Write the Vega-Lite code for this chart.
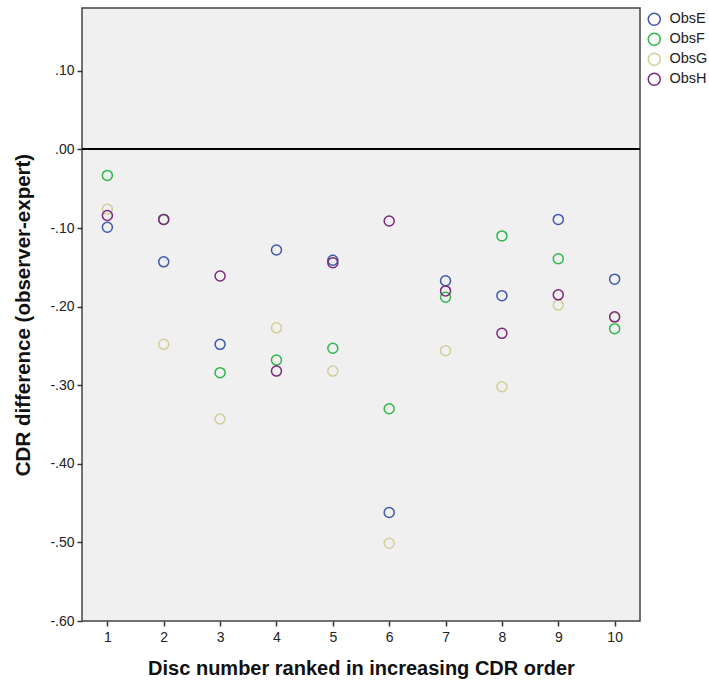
{
  "$schema": "https://vega.github.io/schema/vega-lite/v6.json",
  "width": 558,
  "height": 613,
  "autosize": {"type": "none"},
  "padding": {"left": 82, "top": 8, "right": 69, "bottom": 65},
  "background": "#ffffff",
  "config": {
    "font": "Liberation Sans",
    "view": {"fill": "#f0f0f0", "stroke": "#444444", "strokeWidth": 1.5},
    "axis": {"grid": false, "domain": false, "tickColor": "#333333", "tickSize": 5, "tickWidth": 1.5, "labelColor": "#222222", "labelFontSize": 14, "titleColor": "#111111", "titleFontWeight": "bold"}
  },
  "data": {"values": [
    {"disc": 1, "obs": "ObsE", "diff": -0.099},
    {"disc": 1, "obs": "ObsF", "diff": -0.033},
    {"disc": 1, "obs": "ObsG", "diff": -0.076},
    {"disc": 1, "obs": "ObsH", "diff": -0.084},
    {"disc": 2, "obs": "ObsE", "diff": -0.143},
    {"disc": 2, "obs": "ObsF", "diff": -0.089},
    {"disc": 2, "obs": "ObsG", "diff": -0.248},
    {"disc": 2, "obs": "ObsH", "diff": -0.089},
    {"disc": 3, "obs": "ObsE", "diff": -0.248},
    {"disc": 3, "obs": "ObsF", "diff": -0.284},
    {"disc": 3, "obs": "ObsG", "diff": -0.343},
    {"disc": 3, "obs": "ObsH", "diff": -0.161},
    {"disc": 4, "obs": "ObsE", "diff": -0.128},
    {"disc": 4, "obs": "ObsF", "diff": -0.268},
    {"disc": 4, "obs": "ObsG", "diff": -0.227},
    {"disc": 4, "obs": "ObsH", "diff": -0.282},
    {"disc": 5, "obs": "ObsE", "diff": -0.141},
    {"disc": 5, "obs": "ObsF", "diff": -0.253},
    {"disc": 5, "obs": "ObsG", "diff": -0.282},
    {"disc": 5, "obs": "ObsH", "diff": -0.144},
    {"disc": 6, "obs": "ObsE", "diff": -0.462},
    {"disc": 6, "obs": "ObsF", "diff": -0.330},
    {"disc": 6, "obs": "ObsG", "diff": -0.501},
    {"disc": 6, "obs": "ObsH", "diff": -0.091},
    {"disc": 7, "obs": "ObsE", "diff": -0.167},
    {"disc": 7, "obs": "ObsF", "diff": -0.188},
    {"disc": 7, "obs": "ObsG", "diff": -0.256},
    {"disc": 7, "obs": "ObsH", "diff": -0.180},
    {"disc": 8, "obs": "ObsE", "diff": -0.186},
    {"disc": 8, "obs": "ObsF", "diff": -0.110},
    {"disc": 8, "obs": "ObsG", "diff": -0.302},
    {"disc": 8, "obs": "ObsH", "diff": -0.234},
    {"disc": 9, "obs": "ObsE", "diff": -0.089},
    {"disc": 9, "obs": "ObsF", "diff": -0.139},
    {"disc": 9, "obs": "ObsG", "diff": -0.198},
    {"disc": 9, "obs": "ObsH", "diff": -0.185},
    {"disc": 10, "obs": "ObsE", "diff": -0.165},
    {"disc": 10, "obs": "ObsF", "diff": -0.228},
    {"disc": 10, "obs": "ObsG", "diff": -0.214},
    {"disc": 10, "obs": "ObsH", "diff": -0.213}
  ]},
  "layer": [
    {
      "mark": {"type": "rule", "color": "#000000", "strokeWidth": 1.2},
      "encoding": {"y": {"datum": 0, "type": "quantitative"}}
    },
    {
      "mark": {"type": "point", "shape": "circle", "filled": false, "size": 100, "strokeWidth": 1.5, "opacity": 1},
      "encoding": {
        "x": {"field": "disc", "type": "quantitative",
              "scale": {"domain": [0.55, 10.45], "nice": false, "zero": false},
              "axis": {"values": [1,2,3,4,5,6,7,8,9,10], "title": "Disc number ranked in increasing CDR order", "titleFontSize": 20, "labelPadding": 4, "titlePadding": 14}},
        "y": {"field": "diff", "type": "quantitative",
              "scale": {"domain": [-0.6, 0.18], "nice": false, "zero": false},
              "axis": {"values": [-0.6,-0.5,-0.4,-0.3,-0.2,-0.1,0,0.1], "labelExpr": "replace(replace(format(datum.value, '.2f'), '\u2212', '-'), '0.', '.')", "title": "CDR difference (observer-expert)", "titleFontSize": 20.5, "labelPadding": 3, "titlePadding": 16}},
        "color": {"field": "obs", "type": "nominal",
                  "scale": {"domain": ["ObsE","ObsF","ObsG","ObsH"], "range": ["#3e58ac","#2eb848","#d3ce97","#7c287d"]},
                  "legend": {"title": null, "orient": "none", "legendX": 565, "legendY": 4, "padding": 0, "symbolSize": 144, "symbolStrokeWidth": 1.5, "symbolType": "circle", "labelFontSize": 14.5, "labelColor": "#222222", "labelOffset": 8, "rowPadding": 1}}
      }
    }
  ]
}
